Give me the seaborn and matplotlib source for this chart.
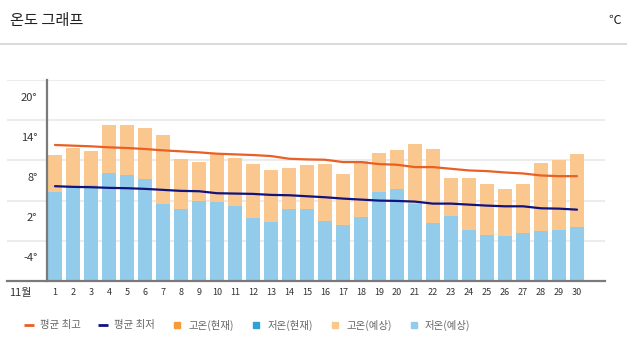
import numpy as np
import seaborn as sns
import matplotlib.pyplot as plt
from matplotlib.lines import Line2D
from matplotlib import transforms

sns.set_theme(style="whitegrid")
plt.rcParams['font.family'] = ['Noto Sans CJK KR', 'DejaVu Sans']

# november, day by day
days = np.arange(1, 31)
high_fc = np.array([8.75, 9.85, 9.35, 13.25, 13.25, 12.8, 11.75, 8.15, 7.7, 8.9,
                    8.3, 7.4, 6.5, 6.8, 7.25, 7.4, 5.9, 7.85, 9.05, 9.5,
                    10.4, 9.65, 5.3, 5.3, 4.55, 3.8, 4.55, 7.55, 8.0, 8.9])
low_fc = np.array([3.25, 4.25, 4.35, 6.1, 5.8, 5.2, 1.5, 0.8, 2.0, 1.85,
                   1.25, -0.55, -1.25, 0.8, 0.8, -1.0, -1.6, -0.4, 3.35, 3.8,
                   1.55, -1.3, -0.25, -2.35, -3.1, -3.25, -2.8, -2.5, -2.35, -1.9])
avg_high = np.array([10.3, 10.2, 10.1, 9.95, 9.85, 9.7, 9.5, 9.35, 9.2, 9.0,
                     8.9, 8.8, 8.65, 8.25, 8.15, 8.1, 7.75, 7.75, 7.45, 7.35,
                     7.0, 7.0, 6.75, 6.5, 6.4, 6.2, 6.05, 5.75, 5.65, 5.65])
avg_low = np.array([4.15, 4.05, 4.0, 3.9, 3.85, 3.75, 3.6, 3.45, 3.4, 3.1,
                    3.05, 3.0, 2.85, 2.8, 2.65, 2.5, 2.3, 2.15, 2.0, 1.95,
                    1.85, 1.55, 1.55, 1.4, 1.25, 1.15, 1.15, 0.85, 0.8, 0.65])
yticks = [-4, 2, 8, 14, 20]
ytick_labels = ["-4°", "2°", "8°", "14°", "20°"]
Y_MIN, Y_MAX = -10, 20

c_avg_high = "#EA5F24"
c_avg_low = "#13137F"
c_high_now = "#F59B3A"
c_low_now = "#2DA1D8"
c_high_fc = "#FAC78E"
c_low_fc = "#93CCEA"

fig = plt.figure(figsize=(6.27, 3.52), dpi=100)
ax = fig.add_axes([7 / 627, 71 / 352, 598 / 627, 201 / 352])

sns.barplot(x=days, y=high_fc - Y_MIN, bottom=Y_MIN, native_scale=True, orient="x",
            width=0.76, color=c_high_fc, saturation=1, linewidth=0, ax=ax)
sns.barplot(x=days, y=low_fc - Y_MIN, bottom=Y_MIN, native_scale=True, orient="x",
            width=0.76, color=c_low_fc, saturation=1, linewidth=0, ax=ax)
sns.lineplot(x=days, y=avg_high, color=c_avg_high, lw=1.6, ax=ax)
sns.lineplot(x=days, y=avg_low, color=c_avg_low, lw=1.6, ax=ax)

ax.set_xlim(1 - 48 / 18, 30 + 28 / 18)
ax.set_ylim(Y_MIN, Y_MAX)
ax.set_xlabel("")
ax.set_ylabel("")

ax.grid(axis="x", visible=False)
ax.grid(axis="y", color="#ececec", lw=1.5)
for s in ["top", "right"]:
    ax.spines[s].set_visible(False)
ax.spines["bottom"].set_color("#7a7a7a")
ax.spines["bottom"].set_linewidth(1.6)
ax.spines["left"].set_color("#7a7a7a")
ax.spines["left"].set_linewidth(1.6)
ax.spines["left"].set_position(("data", 1 - 8 / 18))

ax.set_xticks(days)
ax.set_xticklabels([str(d) for d in days], fontsize=6.5, color="#333333")
ax.set_yticks(yticks)
ax.set_yticklabels(ytick_labels, fontsize=8, color="#333333")
ax.tick_params(axis="x", length=0, pad=5)
ax.tick_params(axis="y", length=0, pad=7)
shift = transforms.ScaledTranslation(0, -12 / 72, fig.dpi_scale_trans)
for lbl in ax.get_yticklabels():
    lbl.set_transform(lbl.get_transform() + shift)

ax.text(1 - 35 / 18, -0.06, "11월", fontsize=8, color="#333333", ha="center", va="center",
        transform=transforms.blended_transform_factory(ax.transData, ax.transAxes))

# header
fig.text(10 / 627, 1 - 20 / 352, "온도 그래프", fontsize=11, color="#222222", va="center")
fig.text(615 / 627, 1 - 20 / 352, "℃", fontsize=9, color="#222222", va="center", ha="center")
fig.add_artist(Line2D([0, 1], [1 - 44 / 352, 1 - 44 / 352], transform=fig.transFigure,
                      color="#d4d4d4", lw=1.2))

handles = [
    Line2D([], [], marker="_", ls="none", color=c_avg_high, markersize=7, mew=2),
    Line2D([], [], marker="_", ls="none", color=c_avg_low, markersize=7, mew=2),
    Line2D([], [], marker="s", ls="none", color=c_high_now, markersize=5),
    Line2D([], [], marker="s", ls="none", color=c_low_now, markersize=5),
    Line2D([], [], marker="s", ls="none", color=c_high_fc, markersize=5),
    Line2D([], [], marker="s", ls="none", color=c_low_fc, markersize=5),
]
labels = ["평균 최고", "평균 최저", "고온(현재)", "저온(현재)", "고온(예상)", "저온(예상)"]
leg = fig.legend(handles, labels, loc="center", bbox_to_anchor=(0.394, 27 / 352), ncol=6,
                 frameon=False, fontsize=7.5, handlelength=1.0, handletextpad=0.6,
                 columnspacing=1.6)
for t in leg.get_texts():
    t.set_color("#666666")

fig.savefig("out.png", dpi=100)
